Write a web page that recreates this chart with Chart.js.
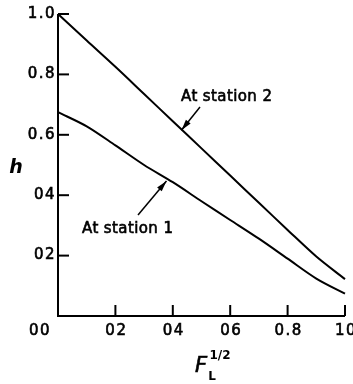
<!DOCTYPE html>
<html>
<head>
<meta charset="utf-8">
<script src="https://cdn.jsdelivr.net/npm/chart.js@4.4.1/dist/chart.umd.min.js"></script>
<style>
  html, body { margin: 0; padding: 0; background: #fff; }
  #wrap { width: 353px; height: 384px; }
</style>
</head>
<body>
<div id="wrap"><canvas id="chart" width="353" height="384"></canvas></div>
<script>
// values
const xValues = [0, 0.1, 0.2, 0.3, 0.4, 0.5, 0.6, 0.7, 0.8, 0.9, 1.0, 1.025];
const station2 = [1.0, 0.912, 0.825, 0.735, 0.645, 0.555, 0.465, 0.375, 0.285, 0.197, 0.122, 0.103];
const station1 = [0.675, 0.628, 0.565, 0.50, 0.443, 0.38, 0.318, 0.256, 0.19, 0.124, 0.074, 0.063];

const xTicks = [0.2, 0.4, 0.6, 0.8, 1.0];
const xTickLabels = ['02', '04', '06', '0.8', '10'];
const yTicks = [0.2, 0.4, 0.6, 0.8, 1.0];
const yTickLabels = ['02', '04', '0.6', '0.8', '1.0'];

const FONT = '"DejaVu Sans", sans-serif';

// texte un peu plus gras, comme le tirage scanné
function heavyText(ctx, txt, x, y) {
  ctx.fillText(txt, x, y);
  ctx.lineWidth = 0.6;
  ctx.strokeText(txt, x, y);
}

// axes, inward ticks, labels and the two pointer notes
const figurePlugin = {
  id: 'figure',
  afterDatasetsDraw(chart) {
    const ctx = chart.ctx;
    const xs = chart.scales.x, ys = chart.scales.y;
    const x0 = xs.getPixelForValue(0), y0 = ys.getPixelForValue(0);
    ctx.save();
    ctx.strokeStyle = '#000';
    ctx.fillStyle = '#000';
    ctx.lineWidth = 2;
    ctx.beginPath();
    ctx.moveTo(x0, ys.getPixelForValue(1.0));
    ctx.lineTo(x0, y0);
    ctx.lineTo(xs.getPixelForValue(1.0), y0);
    ctx.stroke();

    ctx.font = '15px ' + FONT;
    ctx.letterSpacing = '1.5px';
    ctx.textBaseline = 'middle';
    ctx.textAlign = 'right';
    yTicks.forEach((v, i) => {
      const py = ys.getPixelForValue(v);
      ctx.lineWidth = 2;
      ctx.beginPath();
      ctx.moveTo(x0, py);
      ctx.lineTo(x0 + 11, py);
      ctx.stroke();
      heavyText(ctx, yTickLabels[i], x0 - 2, py);
    });
    ctx.textAlign = 'center';
    xTicks.forEach((v, i) => {
      const px = xs.getPixelForValue(v);
      ctx.lineWidth = 2;
      ctx.beginPath();
      ctx.moveTo(px, y0);
      ctx.lineTo(px, y0 - 11);
      ctx.stroke();
      heavyText(ctx, xTickLabels[i], px + 1, y0 + 15);
    });
    heavyText(ctx, '00', x0 - 18, y0 + 15);
    ctx.letterSpacing = '0px';

    // axis titles
    ctx.font = 'italic bold 19px ' + FONT;
    ctx.fillText('h', x0 - 42, ys.getPixelForValue(0.49));
    ctx.font = 'italic 21px ' + FONT;
    heavyText(ctx, 'F', 201, 367);
    ctx.font = 'bold 12px ' + FONT;
    ctx.fillText('1/2', 220, 356);
    ctx.fillText('L', 212, 377);

    // notes
    ctx.font = '15px ' + FONT;
    ctx.letterSpacing = '0.4px';
    ctx.textAlign = 'left';
    heavyText(ctx, 'At station 2', 181, 97);
    heavyText(ctx, 'At station 1', 82, 229);
    ctx.letterSpacing = '0px';
    arrow(ctx, 200, 107, xs.getPixelForValue(0.43), ys.getPixelForValue(0.615));
    arrow(ctx, 138, 215, xs.getPixelForValue(0.378), ys.getPixelForValue(0.447));
    ctx.restore();
  }
};

function arrow(ctx, x1, y1, x2, y2) {
  const a = Math.atan2(y2 - y1, x2 - x1);
  ctx.lineWidth = 1.5;
  ctx.beginPath();
  ctx.moveTo(x1, y1);
  ctx.lineTo(x2, y2);
  ctx.stroke();
  const len = 11, w = 3;
  ctx.beginPath();
  ctx.moveTo(x2, y2);
  ctx.lineTo(x2 - len * Math.cos(a) + w * Math.sin(a), y2 - len * Math.sin(a) - w * Math.cos(a));
  ctx.lineTo(x2 - len * Math.cos(a) - w * Math.sin(a), y2 - len * Math.sin(a) + w * Math.cos(a));
  ctx.closePath();
  ctx.fill();
}

const toPoints = ys => xValues.map((x, i) => ({ x: x, y: ys[i] }));

new Chart(document.getElementById('chart'), {
  type: 'line',
  data: {
    datasets: [
      { label: 'At station 2', data: toPoints(station2) },
      { label: 'At station 1', data: toPoints(station1) }
    ]
  },
  options: {
    responsive: false,
    animation: false,
    clip: false,
    layout: { padding: { left: 58, right: 8, top: 14, bottom: 68 } },
    elements: {
      line: { borderColor: '#000', borderWidth: 2, tension: 0.3 },
      point: { radius: 0 }
    },
    plugins: { legend: { display: false }, tooltip: { enabled: false } },
    scales: {
      x: { type: 'linear', min: 0, max: 1.0, display: false },
      y: { type: 'linear', min: 0, max: 1.0, display: false }
    }
  },
  plugins: [figurePlugin]
});
</script>
</body>
</html>
